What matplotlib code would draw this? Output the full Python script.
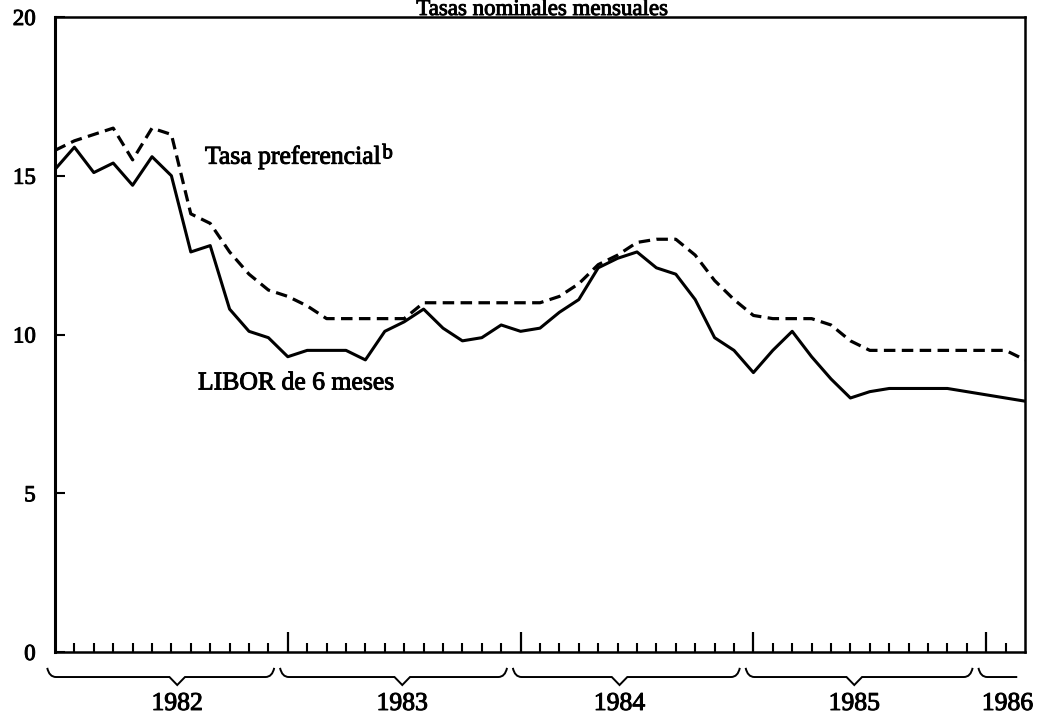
import matplotlib
matplotlib.use("Agg")
import matplotlib.pyplot as plt
import matplotlib.patheffects as pe
import numpy as np
from matplotlib.transforms import blended_transform_factory
from matplotlib.path import Path
from matplotlib.patches import PathPatch

# ---------------- data (monthly, Jan 1982 - Mar 1986) ----------------
libor = [15.2, 15.9, 15.1, 15.4, 14.7, 15.6, 15.0, 12.6, 12.8, 10.8, 10.1, 9.9,
         9.3, 9.5, 9.5, 9.5, 9.2, 10.1, 10.4, 10.8, 10.2, 9.8, 9.9, 10.3,
         10.1, 10.2, 10.7, 11.1, 12.1, 12.4, 12.6, 12.1, 11.9, 11.1, 9.9, 9.5,
         8.8, 9.5, 10.1, 9.3, 8.6, 8.0, 8.2, 8.3, 8.3, 8.3, 8.3, 8.2,
         8.1, 8.0, 7.9]
prime = [15.8, 16.1, 16.3, 16.5, 15.5, 16.5, 16.3, 13.8, 13.5, 12.6, 11.9, 11.4,
         11.2, 10.9, 10.5, 10.5, 10.5, 10.5, 10.5, 11.0, 11.0, 11.0, 11.0, 11.0,
         11.0, 11.0, 11.2, 11.6, 12.2, 12.5, 12.9, 13.0, 13.0, 12.5, 11.7, 11.1,
         10.6, 10.5, 10.5, 10.5, 10.3, 9.8, 9.5, 9.5, 9.5, 9.5, 9.5, 9.5,
         9.5, 9.5, 9.2]
years = ["1982", "1983", "1984", "1985", "1986"]
yticks = [0, 5, 10, 15, 20]
title = "Tasas nominales mensuales"
label_prime = "Tasa preferencial"
label_libor = "LIBOR de 6 meses"

plt.rcParams["font.family"] = ["Liberation Serif", "DejaVu Serif"]
heavy = [pe.withStroke(linewidth=0.7, foreground="black")]

W, H = 1041, 715
fig = plt.figure(figsize=(W / 100, H / 100), dpi=100)
ax = fig.add_axes([55 / W, 1 - 652 / H, 970 / W, 635 / H])

months = np.arange(len(libor))
ax.plot(months, libor, color="black", lw=2.2)
ax.plot(months, prime, color="black", lw=2.3, linestyle=(0, (3.6, 2.0)))

ax.set_xlim(0, len(libor) - 1)
ax.set_ylim(0, 20)

for side in ["left", "right", "top", "bottom"]:
    ax.spines[side].set_linewidth(1.8)
ax.spines["left"].set_linewidth(2.2)

ax.set_yticks(yticks)
ax.set_yticklabels([str(v) for v in yticks])
ax.tick_params(axis="y", direction="in", length=7, width=1.5, pad=14,
               labelsize=16.5)
for lab in ax.get_yticklabels():
    lab.set_path_effects(heavy)

major = [m for m in months[1:-1] if m % 12 == 0]
minor = [m for m in months[1:-1] if m % 12 != 0]
ax.set_xticks(major)
ax.set_xticks(minor, minor=True)
ax.tick_params(axis="x", which="major", direction="in", length=14.5, width=1.6,
               labelbottom=False)
ax.tick_params(axis="x", which="minor", direction="in", length=6.5, width=1.5,
               labelbottom=False)

# ---------------- year braces ----------------
tr = blended_transform_factory(ax.transData, ax.transAxes)
y_top, y_line, y_dip = -0.025, -0.0394, -0.052
h, dw = 0.45, 0.4


def brace(x0, x1, xm=None, right_hook=True):
    verts = [(x0, y_top), (x0 + 0.1, y_line), (x0 + h, y_line)]
    codes = [Path.MOVETO, Path.CURVE3, Path.CURVE3]
    if xm is not None:
        verts += [(xm - dw, y_line), (xm, y_dip), (xm + dw, y_line)]
        codes += [Path.LINETO] * 3
    if right_hook:
        verts += [(x1 - h, y_line), (x1 - 0.1, y_line), (x1, y_top)]
        codes += [Path.LINETO, Path.CURVE3, Path.CURVE3]
    else:
        verts += [(x1, y_line)]
        codes += [Path.LINETO]
    p = PathPatch(Path(verts, codes), transform=tr, fill=False, lw=1.4,
                  edgecolor="black", clip_on=False)
    ax.add_patch(p)


label_offsets = [6.3, 5.9, 5.1, 5.2]
for k, yr in enumerate(years[:-1]):
    start = 12 * k
    xm = start + label_offsets[k]
    brace(start - 0.4, start + 11.3, xm)
    ax.text(xm, -0.0913, yr, transform=tr, ha="center", va="baseline",
            fontsize=18.5, clip_on=False, path_effects=heavy)
brace(47.6, 49.6, None, right_hook=False)
ax.text(49.1, -0.0913, years[-1], transform=tr, ha="center", va="baseline",
        fontsize=18.5, clip_on=False, path_effects=heavy)

# ---------------- labels ----------------
t = ax.text(7.73, 15.38, label_prime, fontsize=18.5, va="baseline", ha="left",
            path_effects=heavy)
ax.annotate("b", xy=(1, 0), xycoords=t, xytext=(0.5, 7.5),
            textcoords="offset points", fontsize=15, va="baseline", ha="left",
            path_effects=heavy)
ax.text(7.37, 8.27, label_libor, fontsize=18.5, va="baseline", ha="left",
        path_effects=heavy)

fig.text(542 / W, 1 - 15 / H, title, ha="center", va="baseline", fontsize=16.5,
         path_effects=heavy)

fig.savefig("out.png", dpi=100)
